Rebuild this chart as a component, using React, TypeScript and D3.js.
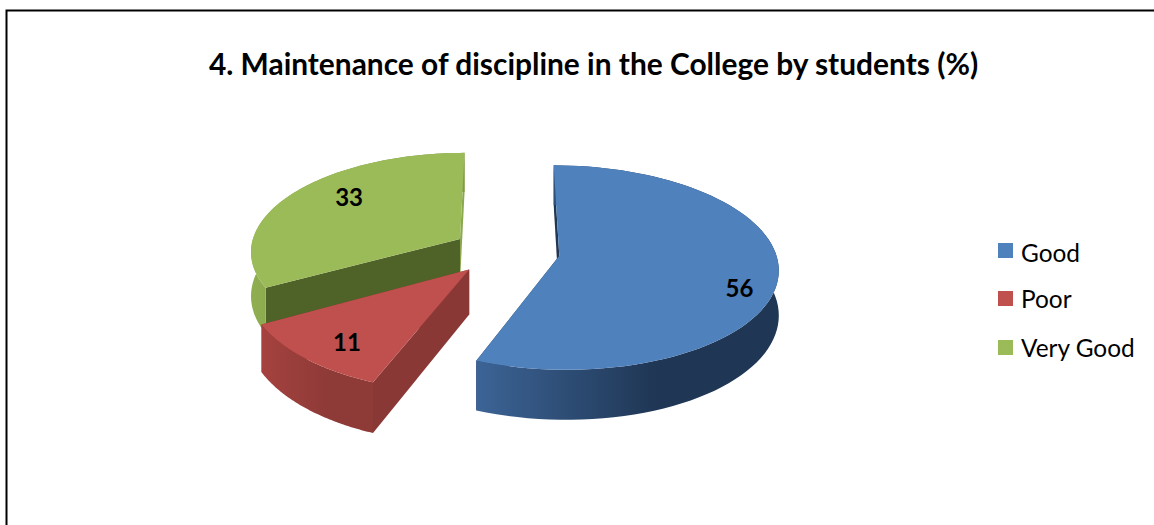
import React from 'react';
import * as d3 from 'd3';

const categories = ['Good', 'Poor', 'Very Good'];
const values = [56, 11, 33];
const titleText = '4. Maintenance of discipline in the College by students (%)';

const topColors = ['#4f81bd', '#c0504d', '#9bbb59'];
const cutColors = ['#1f3654', '#8a3836', '#4f6228'];
const endCutColors = ['#1f3654', '#8a3836', '#8aa84e'];
const rimStart = ['#3c6496', '#a5423f', '#8fae50'];
const rimEnd = ['#1f3654', '#8e3a37', '#7f9a48'];

// how far each slice is pulled out, its radius and squash, and nudges for its number
const explode = [55, 53, 53];
const radii = [216, 216, 210];
const zScale = [1.015, 1.05, 1.03];
const labelFrac = [0.82, 0.78, 0.6];
const labelNudge: [number, number][] = [[1, 17], [3, 5], [-9, -13]];
const drawOrder = [2, 0, 1];

const legendRowY = [243, 291, 340];
const legendTextY = [262, 308, 357];

const width = 1154;
const height = 525;
const cx = 505;
const cy = 251;
const tilt = 0.455;
const depth = 44;
const focal = 1900;

const pie = d3.pie<number>().sort(null).value(d => d);
const arcs = pie(values);

const project = (
  theta: number,
  r: number,
  mid: number,
  ex: number,
  h: number,
  zs: number = 1
): [number, number] => {
  const X = ex * Math.sin(mid) + r * Math.sin(theta);
  const Z = -(ex * Math.cos(mid) + r * zs * Math.cos(theta));
  const s = focal / (focal - Z);
  return [cx + X * s, cy + (Z * tilt + h) * s];
};

const line = d3.line<[number, number]>();

export default function App() {
  const slices = arcs.map((a, i) => {
    const mid = (a.startAngle + a.endAngle) / 2;
    const ex = explode[i];
    const r = radii[i];
    const zs = zScale[i];
    const steps = d3.range(0, 81).map(k => a.startAngle + ((a.endAngle - a.startAngle) * k) / 80);
    const rimTop = steps.map(t => project(t, r, mid, ex, 0, zs));
    const rimBottom = steps.map(t => project(t, r, mid, ex, depth, zs));
    const apex = project(0, 0, mid, ex, 0);
    const apexLow = project(0, 0, mid, ex, depth);
    return {
      i,
      top: line([apex, ...rimTop])! + 'Z',
      rim: line([...rimTop, ...rimBottom.slice().reverse()])! + 'Z',
      startCut: line([apex, rimTop[0], rimBottom[0], apexLow])! + 'Z',
      endCut: line([apex, rimTop[80], rimBottom[80], apexLow])! + 'Z',
      x0: d3.min(rimTop, p => p[0])!,
      x1: d3.max(rimTop, p => p[0])!,
      label: project(mid, r * labelFrac[i], mid, ex, 0, zs),
    };
  });

  return (
    <svg
      width={width}
      height={height}
      style={{ position: 'absolute', left: 0, top: 0, background: '#fff' }}
    >
      <defs>
        {slices.map(s => (
          <linearGradient
            key={s.i}
            id={`rim-${s.i}`}
            gradientUnits="userSpaceOnUse"
            x1={s.x0}
            x2={s.x1}
            y1={0}
            y2={0}
          >
            <stop offset="0%" stopColor={rimStart[s.i]} />
            <stop offset="60%" stopColor={rimEnd[s.i]} />
            <stop offset="100%" stopColor={rimEnd[s.i]} />
          </linearGradient>
        ))}
      </defs>

      <path d={`M6.5,${height}V10.5H${width}`} fill="none" stroke="#000" strokeWidth={2} />

      <text
        x={593.5}
        y={75}
        textAnchor="middle"
        fontFamily="Lato"
        fontWeight="bold"
        fontSize={29.9}
        fill="#000"
      >
        {titleText}
      </text>

      {drawOrder.map(idx => {
        const s = slices[idx];
        return (
          <g key={idx}>
            <path d={s.startCut} fill={cutColors[idx]} />
            <path d={s.endCut} fill={endCutColors[idx]} />
            <path d={s.rim} fill={`url(#rim-${idx})`} />
            <path d={s.top} fill={topColors[idx]} />
          </g>
        );
      })}

      {slices.map(s => (
        <text
          key={s.i}
          x={s.label[0] + labelNudge[s.i][0]}
          y={s.label[1] + labelNudge[s.i][1]}
          dy="0.35em"
          textAnchor="middle"
          fontFamily="Lato"
          fontWeight="bold"
          fontSize={24}
          fill="#000"
        >
          {values[s.i]}
        </text>
      ))}

      {categories.map((c, i) => (
        <g key={c}>
          <rect x={998} y={legendRowY[i]} width={15} height={15} fill={topColors[i]} />
          <text x={1021} y={legendTextY[i]} fontFamily="Lato" fontSize={24.4} fill="#000">
            {c}
          </text>
        </g>
      ))}
    </svg>
  );
}
